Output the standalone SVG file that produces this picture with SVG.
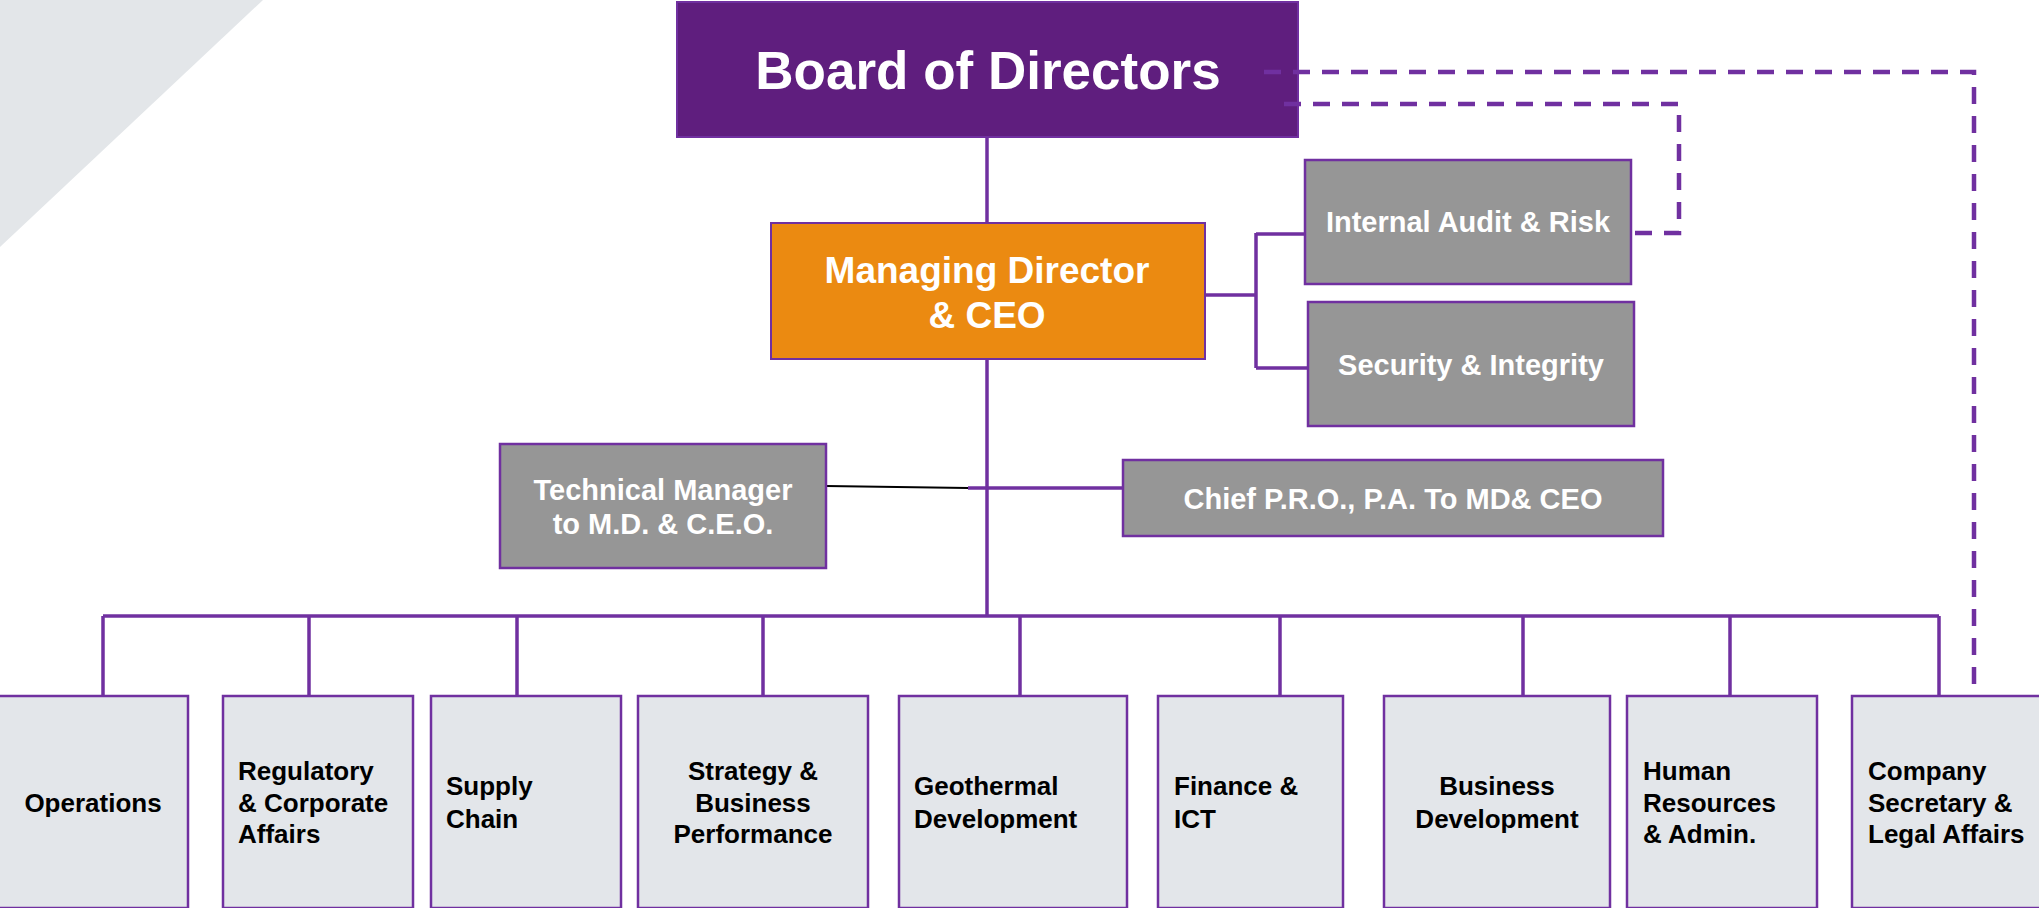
<svg xmlns="http://www.w3.org/2000/svg" width="2039" height="908" viewBox="0 0 2039 908">
<style>
.t{font-family:"Liberation Sans",Arial,sans-serif;font-weight:bold}
.w{fill:#ffffff}
.k{fill:#000000;font-size:26px}
.g{fill:#969696;stroke:#7030A0;stroke-width:2.5}
.d{fill:#E3E6EA;stroke:#7030A0;stroke-width:2.5}
.c{fill:none;stroke:#7030A0;stroke-width:3.5}
.dash{fill:none;stroke:#7030A0;stroke-width:4.5;stroke-dasharray:17 12}
</style>
<rect width="2039" height="908" fill="#ffffff"/>
<polygon points="0,0 263,0 0,247" fill="#E3E6E9"/>
<g id="connectors">
<path class="c" d="M987,137 V223"/>
<path class="c" d="M987,359 V616"/>
<path class="c" d="M1204,295 H1256 M1256,233 V368 M1256,234 H1306 M1256,368 H1309"/>
<line x1="826" y1="486" x2="968" y2="488" stroke="#000" stroke-width="2"/>
<path class="c" d="M968,488 H1123" stroke-width="5"/>
<path class="c" d="M103,616 H1939" stroke-width="4"/>
<path class="c" d="M103,616 V696 M309,616 V696 M517,616 V696 M763,616 V696 M1020,616 V696 M1280,616 V696 M1523,616 V696 M1730,616 V696 M1939,616 V696"/>
</g>
<g id="board">
<rect x="677" y="2" width="621" height="135" fill="#5F1E7E" stroke="#7030A0" stroke-width="2"/>
<text class="t w" x="988" y="89" font-size="53" text-anchor="middle">Board of Directors</text>
</g>
<g id="dashed">
<path class="dash" d="M1264,72 H1974 V696"/>
<path class="dash" d="M1284,104 H1679 V233 H1631"/>
</g>
<g id="md">
<rect x="771" y="223" width="434" height="136" fill="#EB8A11" stroke="#7030A0" stroke-width="2"/>
<text class="t w" font-size="37" text-anchor="middle"><tspan x="987" y="283">Managing Director</tspan><tspan x="987" y="328">&amp; CEO</tspan></text>
</g>
<g id="audit">
<rect class="g" x="1305" y="160" width="326" height="124"/>
<text class="t w" x="1468" y="232" font-size="29" text-anchor="middle">Internal Audit &amp; Risk</text>
</g>
<g id="security">
<rect class="g" x="1308" y="302" width="326" height="124"/>
<text class="t w" x="1471" y="375" font-size="29" text-anchor="middle">Security &amp; Integrity</text>
</g>
<g id="technical">
<rect class="g" x="500" y="444" width="326" height="124"/>
<text class="t w" font-size="29" text-anchor="middle"><tspan x="663" y="500">Technical Manager</tspan><tspan x="663" y="534">to M.D. &amp; C.E.O.</tspan></text>
</g>
<g id="chief">
<rect class="g" x="1123" y="460" width="540" height="76"/>
<text class="t w" x="1393" y="509" font-size="29" text-anchor="middle">Chief P.R.O., P.A. To MD&amp; CEO</text>
</g>
<g id="operations">
<rect class="d" x="-2" y="696" width="190" height="212"/>
<text class="t k" x="93" y="812" text-anchor="middle">Operations</text>
</g>
<g id="regulatory">
<rect class="d" x="223" y="696" width="190" height="212"/>
<text class="t k"><tspan x="238" y="780">Regulatory</tspan><tspan x="238" y="812">&amp; Corporate</tspan><tspan x="238" y="843">Affairs</tspan></text>
</g>
<g id="supply">
<rect class="d" x="431" y="696" width="190" height="212"/>
<text class="t k"><tspan x="446" y="795">Supply</tspan><tspan x="446" y="828">Chain</tspan></text>
</g>
<g id="strategy">
<rect class="d" x="638" y="696" width="230" height="212"/>
<text class="t k" text-anchor="middle"><tspan x="753" y="780">Strategy &amp;</tspan><tspan x="753" y="812">Business</tspan><tspan x="753" y="843">Performance</tspan></text>
</g>
<g id="geothermal">
<rect class="d" x="899" y="696" width="228" height="212"/>
<text class="t k"><tspan x="914" y="795">Geothermal</tspan><tspan x="914" y="828">Development</tspan></text>
</g>
<g id="finance">
<rect class="d" x="1158" y="696" width="185" height="212"/>
<text class="t k"><tspan x="1174" y="795">Finance &amp;</tspan><tspan x="1174" y="828">ICT</tspan></text>
</g>
<g id="business">
<rect class="d" x="1384" y="696" width="226" height="212"/>
<text class="t k" text-anchor="middle"><tspan x="1497" y="795">Business</tspan><tspan x="1497" y="828">Development</tspan></text>
</g>
<g id="hr">
<rect class="d" x="1627" y="696" width="190" height="212"/>
<text class="t k"><tspan x="1643" y="780">Human</tspan><tspan x="1643" y="812">Resources</tspan><tspan x="1643" y="843">&amp; Admin.</tspan></text>
</g>
<g id="company">
<rect class="d" x="1852" y="696" width="200" height="212"/>
<text class="t k"><tspan x="1868" y="780">Company</tspan><tspan x="1868" y="812">Secretary &amp;</tspan><tspan x="1868" y="843">Legal Affairs</tspan></text>
</g>
</svg>
